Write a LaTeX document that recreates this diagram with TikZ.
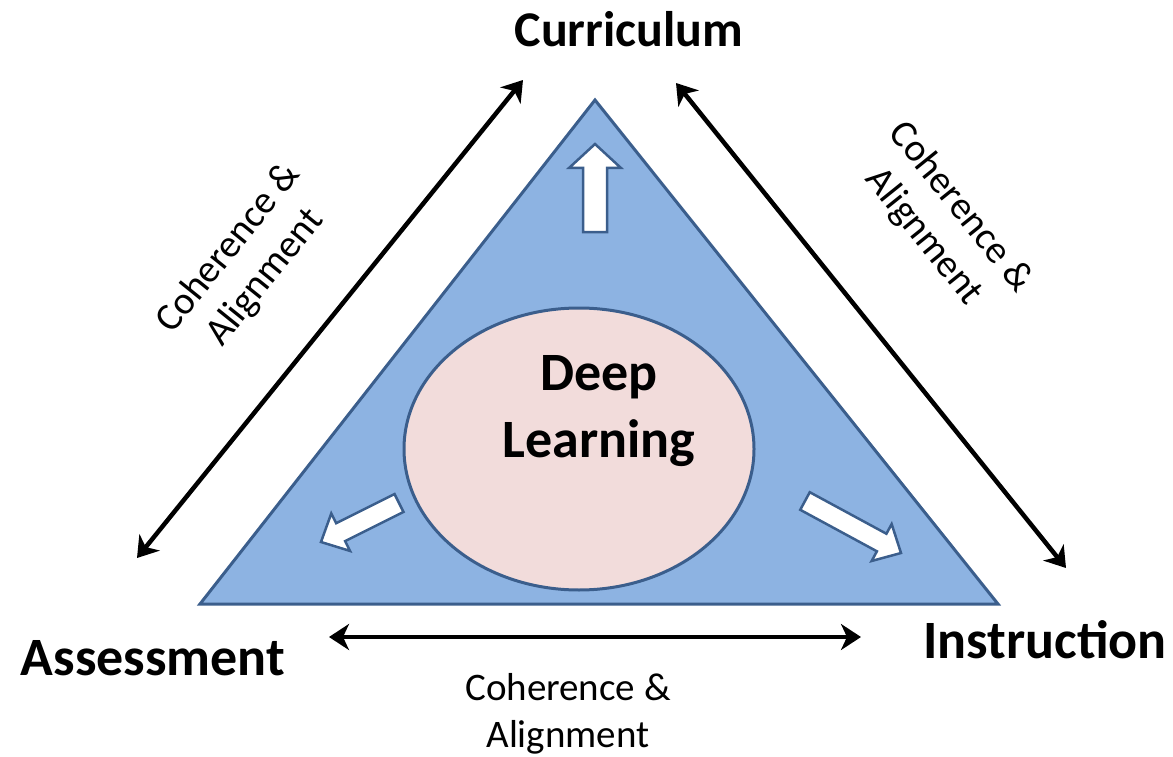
\documentclass[tikz,border=0pt]{standalone}
\usepackage{fontspec}
\setmainfont{Carlito}
\usetikzlibrary{calc,arrows.meta}
\definecolor{trifill}{HTML}{8DB3E2}
\definecolor{triedge}{HTML}{3B5E8C}
\definecolor{ellfill}{HTML}{F2DCDB}
\tikzset{
  tri/.style={fill=trifill,draw=triedge,line width=3pt,line join=miter},
  ell/.style={fill=ellfill,draw=triedge,line width=3pt},
  barrow/.style={fill=white,draw=triedge,line width=2.5pt,line join=miter},
  dbl/.style={line width=4.5pt,{Stealth[length=20pt,width=26pt,inset=6pt]}-{Stealth[length=20pt,width=26pt,inset=6pt]}},
  big/.style={font=\fontsize{54}{60}\selectfont\bfseries,inner sep=0pt},
  ca/.style={font=\fontsize{39}{47}\selectfont,align=center,inner sep=0pt},
}
\begin{document}
\begin{tikzpicture}[x=1pt,y=-1pt]
\useasboundingbox (0,0) rectangle (1173,757);
% triangle
\coordinate (apex) at (595,100);
\coordinate (bl) at (200,604);
\coordinate (br) at (998,604);
\draw[tri] (apex) -- (br) -- (bl) -- cycle;
% block arrows
\coordinate (Ts) at (595,232); \coordinate (Tt) at (595,144); \coordinate (Th) at ($(Tt)!24pt!(Ts)$);
\draw[barrow] (Tt) -- ($(Th)!26pt!90:(Tt)$) -- ($(Th)!12pt!90:(Tt)$) -- ($(Ts)!12pt!90:(Tt)$)
  -- ($(Ts)!12pt!-90:(Tt)$) -- ($(Th)!12pt!-90:(Tt)$) -- ($(Th)!26pt!-90:(Tt)$) -- cycle;
\coordinate (Ls) at (399,503); \coordinate (Lt) at (321,542); \coordinate (Lh) at ($(Lt)!22pt!(Ls)$);
\draw[barrow] (Lt) -- ($(Lh)!21pt!90:(Lt)$) -- ($(Lh)!10pt!90:(Lt)$) -- ($(Ls)!10pt!90:(Lt)$)
  -- ($(Ls)!10pt!-90:(Lt)$) -- ($(Lh)!10pt!-90:(Lt)$) -- ($(Lh)!21pt!-90:(Lt)$) -- cycle;
\coordinate (Rs) at (805,501); \coordinate (Rt) at (901,553); \coordinate (Rh) at ($(Rt)!22pt!(Rs)$);
\draw[barrow] (Rt) -- ($(Rh)!21pt!90:(Rt)$) -- ($(Rh)!10pt!90:(Rt)$) -- ($(Rs)!10pt!90:(Rt)$)
  -- ($(Rs)!10pt!-90:(Rt)$) -- ($(Rh)!10pt!-90:(Rt)$) -- ($(Rh)!21pt!-90:(Rt)$) -- cycle;
% ellipse
\draw[ell] (579,449) ellipse [x radius=175, y radius=141];
\node[big,anchor=base] (deep) at (599,390) {Deep};
\node[big,anchor=base] (learn) at (599,457) {Learning};
% corner labels
\node[big,anchor=base,font=\fontsize{50}{60}\selectfont\bfseries] (cur) at (629,47) {Curriculum};
\node[big,anchor=base] (ass) at (153,675) {Assessment};
\node[big,anchor=base] (ins) at (1045,658) {Instruction};
% double arrows
\coordinate (a1) at (137,558); \coordinate (a2) at (523,80);
\coordinate (b1) at (676,83); \coordinate (b2) at (1066,568);
\coordinate (c1) at (329,637); \coordinate (c2) at (861,637);
\draw[dbl] (a1) -- (a2);
\draw[dbl] (b1) -- (b2);
\draw[dbl] (c1) -- (c2);
% coherence labels
\node[ca,rotate=51.1] (lab1) at (247,263) {Coherence \&\\Alignment};
\node[ca,rotate=-51.2] (lab2) at (942,222) {Coherence \&\\Alignment};
\node[ca] (lab3) at (568,714) {Coherence \&\\Alignment};
\end{tikzpicture}
\end{document}
